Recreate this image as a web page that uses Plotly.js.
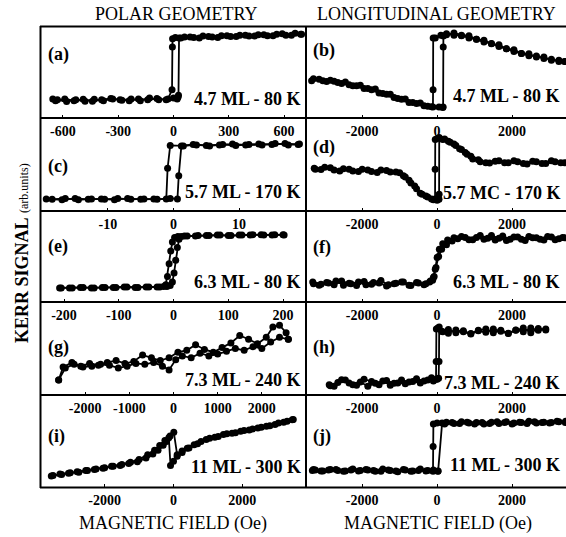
<!DOCTYPE html>
<html>
<head>
<meta charset="utf-8">
<script>
  try {
    document.fonts.load('400 16px "Liberation Serif"');
    document.fonts.load('700 16px "Liberation Serif"');
  } catch (e) {}
</script>
<script src="https://cdn.plot.ly/plotly-3.0.1.min.js"></script>
<style>html,body{margin:0;padding:0;background:#fff;font-family:'Liberation Serif';}#chart{width:566px;height:537px;}</style>
</head>
<body>
<div id="chart"></div>
<script>
// ---------- data (field in Oe, Kerr signal in % of panel height) ----------
// (a) polar 4.7 ML - 80 K
var aHdn = [690, 640, 590, 540, 490, 440, 390, 340, 290, 240, 190, 140, 90, 40, 10, -5, -6, -8, -30, -80, -130, -180, -230, -280, -330, -380, -430, -480, -530, -580, -630, -655];
var aMdn = [92, 91, 92.5, 90.5, 91.5, 90, 91, 89.5, 90.5, 88.5, 89.5, 88, 89, 88, 88.5, 87, 78, 31, 21, 20, 22, 19, 21, 19.5, 21, 19, 20.5, 18.5, 20, 18, 20, 21];
var aHup = [-640, -590, -540, -490, -440, -390, -340, -290, -240, -190, -140, -90, -40, 0, 20, 25, 27, 30, 60, 110, 160, 210, 260, 310, 360, 410, 460, 510, 560, 610, 660, 695];
var aMup = [19, 21, 19, 20.5, 18.5, 20, 21.5, 20, 19, 21, 20, 21.5, 20, 22, 21, 23, 25, 88, 89, 88.5, 90, 89, 90.5, 89.5, 91, 90, 91.5, 90.5, 92, 91, 93, 92];
// (b) longitudinal 4.7 ML - 80 K
var bHdn = [3400, 3250, 3050, 2850, 2650, 2450, 2250, 2050, 1850, 1650, 1450, 1250, 1050, 850, 650, 450, 250, 100, -50, -105, -108, -112, -250, -450, -650, -850, -1050, -1250, -1450, -1650, -1850, -2050, -2250, -2450, -2650, -2850, -3050, -3300];
var bMdn = [62, 63.5, 63.5, 67, 67, 70.5, 71, 75, 76, 80.5, 81.5, 85.5, 86.5, 90.5, 91, 93.5, 91.5, 91, 88, 88, 31, 12, 13, 16.5, 17, 21, 21.5, 26, 27, 32, 32.5, 36, 35.5, 39.5, 39, 41.5, 41, 43];
var bHup = [-3350, -3150, -2950, -2750, -2550, -2350, -2150, -1950, -1750, -1550, -1350, -1150, -950, -750, -550, -350, -150, 50, 150, 160, 163, 167, 250, 450, 650, 850, 1050, 1250, 1450, 1650, 1850, 2050, 2250, 2450, 2650, 2850, 3050, 3250, 3420];
var bMup = [41, 42.5, 40, 40.5, 38, 36.5, 35.5, 32.5, 31, 27.5, 26, 22.5, 20.5, 17, 16, 13.5, 12.5, 12, 11.5, 12, 78, 90, 92.5, 91, 90.5, 88, 86.5, 83.5, 82, 78.5, 76, 73, 71, 68.5, 68, 65.5, 64.5, 62, 62];
// (c) polar 5.7 ML - 170 K
var cHdn = [19.2, 17.5, 15.5, 13.5, 11.5, 9.5, 7.5, 5.5, 3.5, 1.5, -0.5, -0.9, -1.1, -3, -5, -7, -9, -11, -13, -15, -17, -19.4];
var cMdn = [72, 71, 72.5, 71, 71.5, 70.5, 71.5, 70, 71, 70, 70.5, 46, 13, 13, 12.5, 13.5, 12, 13, 12.5, 13.5, 12, 13];
var cHup = [-18.5, -16.5, -14.5, -12.5, -10.5, -8.5, -6.5, -4.5, -2.5, -0.5, 0.6, 0.8, 1.2, 3, 5, 7, 9, 11, 13, 15, 17, 19];
var cMup = [12.5, 13.5, 12, 13, 12.5, 13.5, 12.5, 13, 12.5, 13.5, 13, 38, 70, 71.5, 70.5, 71, 72, 71, 72, 71.5, 72.5, 71.5];
// (d) longitudinal 5.7 MC - 170 K
var dHdn = [3300, 3050, 2800, 2550, 2300, 2050, 1800, 1550, 1300, 1100, 900, 750, 600, 450, 300, 150, 0, -50, -53, -55, -150, -300, -450, -600, -750, -900, -1100, -1350, -1600, -1850, -2100, -2350, -2600, -2850, -3100, -3280];
var dMdn = [52, 54, 51, 53.5, 51, 54, 52, 53.5, 52, 55, 59, 63, 67, 72, 75, 77, 78, 77, 45, 13, 13, 16, 19, 27, 33, 38, 42, 43.5, 41.5, 44, 42.5, 45, 43, 46.5, 44.5, 46];
var dHup = [-3250, -3000, -2750, -2500, -2250, -2000, -1750, -1500, -1250, -1000, -850, -700, -550, -400, -250, -100, 0, 50, 53, 56, 200, 350, 500, 650, 800, 950, 1150, 1400, 1650, 1900, 2150, 2400, 2650, 2900, 3150, 3400];
var dMup = [45, 47, 44, 45.5, 43, 45, 42.5, 44, 42, 41, 36.5, 30, 24, 18, 15, 12, 11.5, 12.5, 18, 79, 77.5, 74, 70.5, 66, 61, 56, 53, 51.5, 54, 52, 53, 50.5, 53, 51, 53, 52];
// (e) polar 6.3 ML - 80 K
var eHdn = [200, 180, 160, 140, 120, 100, 80, 60, 40, 20, 8, 2, -2, -5, -8, -11, -14, -18, -30, -50, -70, -90, -110, -130, -150, -170, -190, -208];
var eMdn = [74, 73.5, 74, 73.5, 73.5, 73, 73.5, 73, 72.5, 72.5, 72, 71, 66, 56, 42, 28, 19, 17, 16.5, 16.5, 16, 16.5, 16, 16, 15.5, 16, 15.5, 15.5];
var eHup = [-205, -185, -165, -145, -125, -105, -85, -65, -45, -25, -12, -6, -2, 1, 4, 7, 10, 14, 25, 45, 65, 85, 105, 125, 145, 165, 185, 202];
var eMup = [15.5, 15.5, 16, 15.5, 16, 16, 16.5, 16, 16.5, 16.5, 17, 18, 22, 32, 46, 60, 69, 72, 72.5, 73, 73, 73.5, 73, 73.5, 74, 73.5, 74, 73.5];
// (f) longitudinal 6.3 ML - 80 K
var fHdn = [3350, 3150, 2950, 2750, 2550, 2350, 2150, 1950, 1750, 1550, 1350, 1150, 950, 750, 550, 400, 250, 120, 40, -30, -80, -120, -200, -350, -550, -750, -950, -1150, -1350, -1550, -1750, -1950, -2150, -2350, -2550, -2750, -2950, -3150, -3300];
var fMdn = [71, 68.5, 72, 69, 70.5, 67.5, 71.5, 69, 72.5, 68, 70, 73, 68.5, 71, 69.5, 67, 63, 58, 50, 38, 28, 24, 22, 19, 21.5, 18.5, 22, 20, 17.5, 21, 19.5, 22.5, 18, 20.5, 23, 19, 21.5, 18.5, 20];
var fHup = [-3320, -3100, -2900, -2700, -2500, -2300, -2100, -1900, -1700, -1500, -1300, -1100, -900, -700, -500, -300, -180, -100, -50, 0, 60, 150, 280, 450, 650, 850, 1050, 1250, 1450, 1650, 1850, 2050, 2250, 2450, 2650, 2850, 3050, 3250, 3400];
var fMup = [22, 19.5, 21, 23, 18.5, 20, 22, 19, 21.5, 23.5, 19, 20.5, 22, 18, 21, 20, 23, 27, 36, 49, 58, 64, 68, 70.5, 72, 68.5, 71, 69, 73, 70, 67.5, 71.5, 69, 72, 70.5, 68, 71.5, 69.5, 70.5];
// (g) polar 7.3 ML - 240 K
var gHup = [-2600, -2450, -2250, -2050, -1850, -1650, -1450, -1250, -1050, -850, -650, -450, -250, -100, 50, 200, 400, 600, 800, 1000, 1200, 1400, 1600, 1800, 2000, 2200, 2400, 2600];
var gMup = [16, 29, 33, 30, 31, 33, 32, 29, 31, 34, 33, 35, 31, 27, 38, 42, 40, 45, 42, 44, 47, 50, 48, 52, 50, 57, 62, 60];
var gHdn = [2600, 2550, 2400, 2250, 2100, 1900, 1700, 1500, 1300, 1100, 900, 700, 500, 300, 100, -100, -300, -500, -700, -900, -1100, -1300, -1500, -1700, -1900, -2100, -2300, -2500, -2600];
var gMdn = [60, 67, 75, 73, 62, 55, 60, 64, 56, 51, 46, 49, 54, 48, 46, 40, 37, 40, 43, 36, 34, 37, 35, 32, 34, 31, 35, 30, 16];
// (h) longitudinal 7.3 ML - 240 K
var hHdn = [2900, 2700, 2500, 2300, 2100, 1900, 1700, 1500, 1300, 1100, 900, 700, 500, 300, 120, 20, -20, -25, -30, -150, -350, -550, -750, -950, -1150, -1350, -1550, -1750, -1950, -2150, -2350, -2550, -2750, -2880];
var hMdn = [70, 71.5, 67, 72, 69.5, 66, 68.5, 71, 67.5, 69, 65.5, 68, 70, 66.5, 68.5, 72, 71, 36, 17, 18.5, 15, 17.5, 14, 16, 12.5, 15.5, 11, 14.5, 17, 10.5, 13, 16.5, 9.5, 11];
var hHup = [-2850, -2650, -2450, -2250, -2050, -1850, -1650, -1450, -1250, -1050, -850, -650, -450, -250, -100, 0, 40, 50, 55, 150, 300, 500, 700, 900, 1100, 1300, 1500, 1700, 1900, 2100, 2300, 2500, 2700, 2900];
var hMup = [10, 13.5, 16, 11, 14, 9.5, 12.5, 15, 10.5, 13, 12, 14.5, 13, 16, 15, 17, 18, 36, 73, 68, 70.5, 67, 69, 66, 69.5, 71, 67, 69.5, 66.5, 70, 68, 72, 69.5, 71];
// (i) polar 11 ML - 300 K
var iHup = [-3550, -3300, -3050, -2800, -2550, -2300, -2050, -1800, -1550, -1300, -1050, -800, -600, -450, -300, -200, -136, -87, 0, 107, 250, 450, 700, 950, 1200, 1450, 1700, 1950, 2200, 2450, 2700, 2950, 3200, 3450];
var iMup = [12, 14, 15, 16.5, 18, 19, 20.5, 22.5, 23.5, 25.5, 27.5, 31.5, 36, 40, 45.5, 49.5, 53.5, 23.5, 28, 33.5, 37.5, 42.5, 47, 51.5, 54, 57, 58.5, 60.5, 62, 64, 66, 68, 70.5, 73];
var iHdn = [3480, 3300, 3050, 2800, 2550, 2300, 2050, 1800, 1550, 1300, 1050, 800, 600, 400, 250, 107, 9, -100, -250, -400, -550, -750, -1000, -1250, -1500, -1750, -2000, -2250, -2500, -2750, -3000, -3250, -3500];
var iMdn = [73.5, 71.5, 69.5, 66.5, 65, 63, 61.5, 59, 58, 55, 53, 49.5, 46, 42, 39, 35, 59.5, 55.5, 50.5, 45, 40, 35, 30, 27, 24.5, 22.5, 21, 19.5, 18, 16, 15.5, 13.5, 12.5];
// (j) longitudinal 11 ML - 300 K
var jHdn = [3420, 3200, 3000, 2800, 2600, 2400, 2200, 2000, 1800, 1600, 1400, 1200, 1000, 800, 600, 400, 200, 0, -100, -107, -110, -250, -450, -650, -850, -1050, -1250, -1450, -1650, -1850, -2050, -2250, -2450, -2650, -2850, -3050, -3250, -3330];
var jMdn = [70, 71.5, 69.5, 70, 71, 69, 70.5, 68.5, 70, 71, 69, 70, 68.5, 70.5, 69, 70, 68.5, 69.5, 68.5, 44, 17, 18, 19.5, 17.5, 18.5, 16.5, 18, 19.5, 17, 18.5, 18, 19.5, 17.5, 18, 19, 17.5, 18.5, 18];
var jHup = [-3300, -3100, -2900, -2700, -2500, -2300, -2100, -1900, -1700, -1500, -1300, -1100, -900, -700, -500, -300, -100, 20, 27, 133, 250, 450, 650, 850, 1050, 1250, 1450, 1650, 1850, 2050, 2250, 2450, 2650, 2850, 3050, 3250, 3430];
var jMup = [19, 17.5, 18.5, 19, 17, 18.5, 17.5, 19, 18, 17, 18.5, 17.5, 19, 17, 18, 17.5, 18.5, 17, 17.5, 69.5, 70.5, 69, 71, 69.5, 70, 68.5, 70.5, 69, 71, 69.5, 70, 71.5, 69.5, 70.5, 70, 71, 71.5];

// tick labels
var ticksA = [-600, -300, 0, 300, 600];
var ticksC = [-10, 0, 10];
var ticksE = [-200, -100, 0, 100, 200];
var ticksG = [-2000, -1000, 0, 1000, 2000];
var ticksI = [-2000, 0, 2000];
var ticksLong = [-2000, 0, 2000];

var panelLetters = ['(a)', '(b)', '(c)', '(d)', '(e)', '(f)', '(g)', '(h)', '(i)', '(j)'];
var sampleLabels = ['4.7 ML - 80 K', '4.7 ML - 80 K', '5.7 ML - 170 K', '5.7 MC - 170 K', '6.3 ML - 80 K',
                    '6.3 ML - 80 K', '7.3 ML - 240 K', '7.3 ML - 240 K', '11 ML - 300 K', '11 ML - 300 K'];

// ---------- layout helpers ----------
var W = 566, H = 537;
var FONT = 'Liberation Serif';
var colX = [[41, 306], [306, 566]];
var rowY = [[27, 118], [118, 211], [211, 302], [302, 395], [395, 487]];

var panels = [
  {dn: [aHdn, aMdn], up: [aHup, aMup], range: [-719, 719], ticks: ticksA},
  {dn: [bHdn, bMdn], up: [bHup, bMup], range: [-3500, 3440], ticks: ticksLong},
  {dn: [cHdn, cMdn], up: [cHup, cMup], range: [-20.2, 20.2], ticks: ticksC},
  {dn: [dHdn, dMdn], up: [dHup, dMup], range: [-3500, 3440], ticks: ticksLong},
  {dn: [eHdn, eMdn], up: [eHup, eMup], range: [-242, 242], ticks: ticksE},
  {dn: [fHdn, fMdn], up: [fHup, fMup], range: [-3500, 3440], ticks: ticksLong},
  {dn: [gHdn, gMdn], up: [gHup, gMup], range: [-3000, 3000], ticks: ticksG},
  {dn: [hHdn, hMdn], up: [hHup, hMup], range: [-3500, 3440], ticks: ticksLong},
  {dn: [iHdn, iMdn], up: [iHup, iMup], range: [-3850, 3850], ticks: ticksI},
  {dn: [jHdn, jMdn], up: [jHup, jMup], range: [-3500, 3440], ticks: ticksLong}
];

// label positions (px)
var letterY = [55, 51, 166, 147, 246, 247, 347, 347, 436, 436];
var sampleY = [99, 96, 192, 193, 282, 282, 380, 383, 467, 465];

var traces = [];
var layout = {
  width: W, height: H,
  margin: {l: 0, r: 0, t: 0, b: 0},
  paper_bgcolor: '#ffffff',
  plot_bgcolor: 'rgba(0,0,0,0)',
  showlegend: false,
  font: {family: FONT, color: '#000', size: 14},
  annotations: [],
  shapes: [
    {type: 'line', xref: 'paper', yref: 'paper', x0: 40 / W, x1: 1, y0: 1 - 26.5 / H, y1: 1 - 26.5 / H, line: {color: '#000', width: 2}},
    {type: 'line', xref: 'paper', yref: 'paper', x0: 40 / W, x1: 1, y0: 1 - 487.5 / H, y1: 1 - 487.5 / H, line: {color: '#000', width: 2}},
    {type: 'line', xref: 'paper', yref: 'paper', x0: 40.5 / W, x1: 40.5 / W, y0: 1 - 26 / H, y1: 1 - 488 / H, line: {color: '#000', width: 2}}
  ]
};

function px2x(px) { return px / W; }
function py2y(py) { return 1 - py / H; }

panels.forEach(function (p, k) {
  var col = k % 2, row = Math.floor(k / 2);
  var n = k + 1;
  var xa = n === 1 ? 'x' : 'x' + n, ya = n === 1 ? 'y' : 'y' + n;
  var xk = n === 1 ? 'xaxis' : 'xaxis' + n, yk = n === 1 ? 'yaxis' : 'yaxis' + n;
  [p.dn, p.up].forEach(function (br) {
    traces.push({
      x: br[0], y: br[1], xaxis: xa, yaxis: ya,
      type: 'scatter', mode: 'lines+markers',
      line: {color: '#000', width: 1.8},
      marker: {color: '#000', size: 7},
      hoverinfo: 'skip'
    });
  });
  layout[xk] = {
    domain: [px2x(colX[col][0]), px2x(colX[col][1])],
    anchor: ya, range: p.range,
    showgrid: false, zeroline: false,
    showline: true, mirror: true, linecolor: '#000', linewidth: 1,
    ticks: 'inside', ticklen: 3, tickwidth: 1, tickcolor: '#000',
    tickvals: p.ticks,
    ticktext: p.ticks.map(function (v) { return '<b>' + String(v) + '</b>'; }),
    tickfont: {family: FONT, size: 14, color: '#000'}
  };
  layout[yk] = {
    domain: [py2y(rowY[row][1]), py2y(rowY[row][0])],
    anchor: xa, range: [0, 100],
    showgrid: false, zeroline: false,
    showline: true, mirror: col === 0, linecolor: '#000', linewidth: 1,
    ticks: '', showticklabels: false
  };
  layout.annotations.push({
    xref: 'paper', yref: 'paper',
    x: px2x(colX[col][0] + 5), y: py2y(letterY[k]),
    xanchor: 'left', yanchor: 'middle', showarrow: false,
    text: '<b>' + panelLetters[k] + '</b>',
    font: {family: FONT, size: 18, color: '#000'}
  });
  layout.annotations.push({
    xref: 'paper', yref: 'paper',
    x: px2x(col === 0 ? 303 : 562), y: py2y(sampleY[k]),
    xanchor: 'right', yanchor: 'middle', showarrow: false,
    text: '<b>' + sampleLabels[k] + '</b>',
    font: {family: FONT, size: 18, color: '#000'}
  });
});

// column titles, axis titles
[['POLAR GEOMETRY', 176, 14], ['LONGITUDINAL GEOMETRY', 436, 14],
 ['MAGNETIC FIELD (Oe)', 173, 523], ['MAGNETIC FIELD (Oe)', 438, 523]].forEach(function (t) {
  layout.annotations.push({
    xref: 'paper', yref: 'paper', x: px2x(t[1]), y: py2y(t[2]),
    xanchor: 'center', yanchor: 'middle', showarrow: false,
    text: t[0], font: {family: FONT, size: 18, color: '#000'}
  });
});
layout.annotations.push({
  xref: 'paper', yref: 'paper', x: px2x(22), y: py2y(253),
  xanchor: 'center', yanchor: 'middle', showarrow: false, textangle: -90,
  text: '<b>KERR SIGNAL</b> <span style="font-size:12px">(arb.units)</span>',
  font: {family: FONT, size: 18, color: '#000'}
});

var cfg = {staticPlot: true, displayModeBar: false};
Plotly.newPlot('chart', traces, layout, cfg);
if (document.fonts && document.fonts.ready) {
  document.fonts.ready.then(function () { Plotly.react('chart', traces, layout, cfg); });
}
</script>
</body>
</html>
